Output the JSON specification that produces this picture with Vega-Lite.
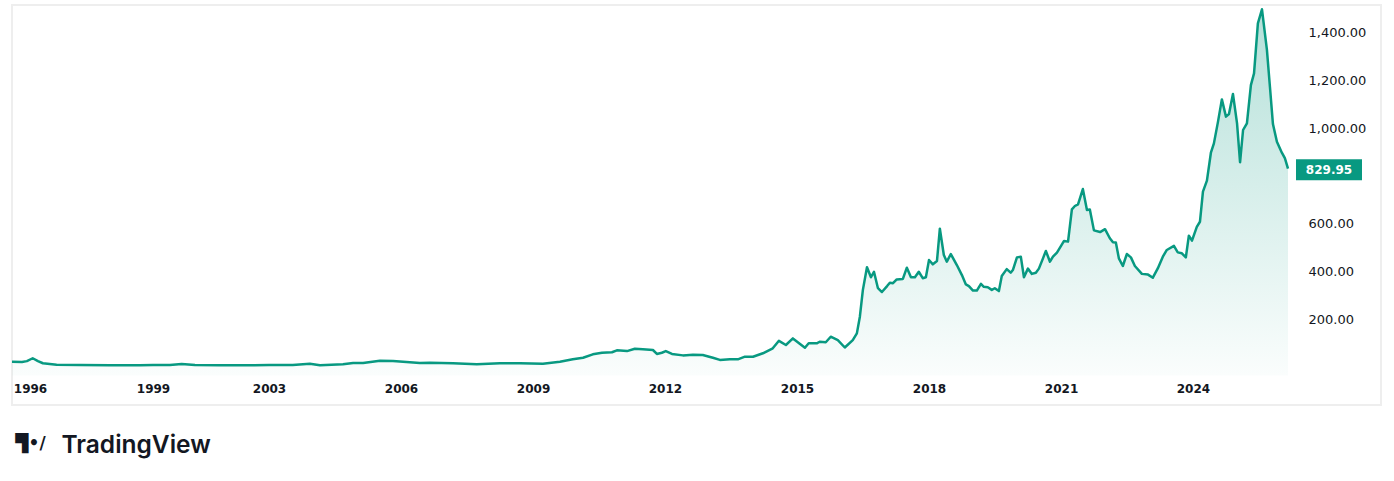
{
  "$schema": "https://vega.github.io/schema/vega-lite/v6.json",
  "width": 1369,
  "height": 400,
  "padding": {"left": 12, "top": 5, "right": 13, "bottom": 76},
  "autosize": {"type": "none"},
  "background": "#ffffff",
  "config": {
    "view": {"stroke": "#eeeeee", "strokeWidth": 2},
    "axis": {"grid": false, "domain": false, "ticks": false, "tickSize": 0}
  },
  "data": {
    "format": {"parse": {"date": "utc:'%Y-%m-%d'"}},
    "values": [
      {"date": "1995-07-22", "close": 22},
      {"date": "1995-10-20", "close": 21},
      {"date": "1995-12-04", "close": 25},
      {"date": "1996-01-25", "close": 37},
      {"date": "1996-03-12", "close": 25},
      {"date": "1996-04-25", "close": 16},
      {"date": "1996-08-25", "close": 10},
      {"date": "1997-03-20", "close": 9},
      {"date": "1997-12-13", "close": 7.5},
      {"date": "1998-09-06", "close": 8},
      {"date": "1999-01-01", "close": 9},
      {"date": "1999-08-01", "close": 9},
      {"date": "1999-12-28", "close": 13},
      {"date": "2000-06-13", "close": 9},
      {"date": "2001-04-22", "close": 7.5},
      {"date": "2002-03-03", "close": 7.5},
      {"date": "2003-01-01", "close": 9},
      {"date": "2003-07-17", "close": 9},
      {"date": "2003-12-06", "close": 14},
      {"date": "2004-02-28", "close": 7.5},
      {"date": "2004-09-06", "close": 12},
      {"date": "2004-11-29", "close": 17},
      {"date": "2005-02-20", "close": 17},
      {"date": "2005-07-10", "close": 27},
      {"date": "2005-10-26", "close": 25.5},
      {"date": "2006-03-15", "close": 20},
      {"date": "2006-06-06", "close": 17},
      {"date": "2006-08-28", "close": 18},
      {"date": "2007-03-08", "close": 16},
      {"date": "2007-09-22", "close": 12},
      {"date": "2008-04-01", "close": 16},
      {"date": "2008-09-14", "close": 16},
      {"date": "2009-03-24", "close": 14},
      {"date": "2009-08-12", "close": 22.6},
      {"date": "2009-11-27", "close": 32.6},
      {"date": "2010-02-20", "close": 39},
      {"date": "2010-05-12", "close": 53.5},
      {"date": "2010-07-27", "close": 60},
      {"date": "2010-10-18", "close": 62},
      {"date": "2010-11-28", "close": 70},
      {"date": "2011-02-20", "close": 67},
      {"date": "2011-04-26", "close": 77},
      {"date": "2011-07-01", "close": 74.5},
      {"date": "2011-09-23", "close": 71.5},
      {"date": "2011-10-26", "close": 55},
      {"date": "2011-12-06", "close": 60},
      {"date": "2012-01-08", "close": 67},
      {"date": "2012-02-28", "close": 55},
      {"date": "2012-05-29", "close": 49},
      {"date": "2012-08-20", "close": 52},
      {"date": "2012-11-10", "close": 50.6},
      {"date": "2013-02-02", "close": 39},
      {"date": "2013-04-01", "close": 30},
      {"date": "2013-06-23", "close": 32.6},
      {"date": "2013-08-28", "close": 32.6},
      {"date": "2013-10-26", "close": 43.5},
      {"date": "2014-01-01", "close": 43.5},
      {"date": "2014-03-24", "close": 57.7},
      {"date": "2014-06-14", "close": 78.7},
      {"date": "2014-08-04", "close": 110},
      {"date": "2014-10-01", "close": 92.5},
      {"date": "2014-11-28", "close": 120},
      {"date": "2015-03-08", "close": 81},
      {"date": "2015-04-08", "close": 99.6},
      {"date": "2015-06-14", "close": 99.6},
      {"date": "2015-07-08", "close": 106},
      {"date": "2015-08-28", "close": 104},
      {"date": "2015-10-08", "close": 127},
      {"date": "2015-12-06", "close": 113},
      {"date": "2016-02-02", "close": 82},
      {"date": "2016-04-08", "close": 113},
      {"date": "2016-05-12", "close": 141},
      {"date": "2016-06-06", "close": 211},
      {"date": "2016-07-01", "close": 323},
      {"date": "2016-08-04", "close": 418},
      {"date": "2016-09-06", "close": 376},
      {"date": "2016-10-01", "close": 399},
      {"date": "2016-11-03", "close": 330},
      {"date": "2016-12-06", "close": 314},
      {"date": "2017-01-18", "close": 339},
      {"date": "2017-02-10", "close": 353},
      {"date": "2017-03-08", "close": 351},
      {"date": "2017-04-08", "close": 367},
      {"date": "2017-05-29", "close": 369},
      {"date": "2017-07-01", "close": 416},
      {"date": "2017-08-04", "close": 376},
      {"date": "2017-09-06", "close": 376},
      {"date": "2017-10-08", "close": 399},
      {"date": "2017-11-10", "close": 372},
      {"date": "2017-12-06", "close": 376},
      {"date": "2018-01-01", "close": 448},
      {"date": "2018-02-02", "close": 430},
      {"date": "2018-03-08", "close": 444},
      {"date": "2018-04-01", "close": 579},
      {"date": "2018-05-04", "close": 469},
      {"date": "2018-05-29", "close": 441},
      {"date": "2018-07-01", "close": 473},
      {"date": "2018-08-20", "close": 427},
      {"date": "2018-10-01", "close": 385},
      {"date": "2018-11-03", "close": 346},
      {"date": "2018-11-28", "close": 339},
      {"date": "2019-01-01", "close": 320},
      {"date": "2019-02-02", "close": 320},
      {"date": "2019-03-08", "close": 348},
      {"date": "2019-04-01", "close": 336},
      {"date": "2019-05-04", "close": 334},
      {"date": "2019-06-06", "close": 323},
      {"date": "2019-07-01", "close": 330},
      {"date": "2019-08-04", "close": 318},
      {"date": "2019-08-28", "close": 381},
      {"date": "2019-10-08", "close": 410},
      {"date": "2019-11-10", "close": 395},
      {"date": "2019-11-28", "close": 406},
      {"date": "2020-01-01", "close": 459},
      {"date": "2020-02-02", "close": 462},
      {"date": "2020-02-28", "close": 376},
      {"date": "2020-04-01", "close": 412},
      {"date": "2020-05-04", "close": 390},
      {"date": "2020-06-06", "close": 395},
      {"date": "2020-07-01", "close": 412},
      {"date": "2020-08-04", "close": 455},
      {"date": "2020-08-28", "close": 486},
      {"date": "2020-10-01", "close": 441},
      {"date": "2020-10-26", "close": 462},
      {"date": "2020-11-28", "close": 479},
      {"date": "2021-01-01", "close": 507},
      {"date": "2021-01-26", "close": 528},
      {"date": "2021-02-28", "close": 525},
      {"date": "2021-04-01", "close": 660},
      {"date": "2021-04-26", "close": 674},
      {"date": "2021-05-22", "close": 681},
      {"date": "2021-07-01", "close": 745},
      {"date": "2021-08-04", "close": 657},
      {"date": "2021-08-28", "close": 659},
      {"date": "2021-10-01", "close": 572},
      {"date": "2021-11-21", "close": 565},
      {"date": "2022-01-01", "close": 577},
      {"date": "2022-02-10", "close": 539},
      {"date": "2022-03-08", "close": 522},
      {"date": "2022-04-01", "close": 521},
      {"date": "2022-04-26", "close": 455},
      {"date": "2022-05-29", "close": 423},
      {"date": "2022-07-01", "close": 473},
      {"date": "2022-08-04", "close": 459},
      {"date": "2022-09-06", "close": 423},
      {"date": "2022-11-03", "close": 390},
      {"date": "2022-12-24", "close": 387},
      {"date": "2023-02-02", "close": 374},
      {"date": "2023-03-15", "close": 413},
      {"date": "2023-04-26", "close": 462},
      {"date": "2023-05-29", "close": 490},
      {"date": "2023-07-27", "close": 507},
      {"date": "2023-08-28", "close": 480},
      {"date": "2023-10-01", "close": 476},
      {"date": "2023-11-03", "close": 459},
      {"date": "2023-11-28", "close": 550},
      {"date": "2023-12-24", "close": 529},
      {"date": "2024-02-02", "close": 587},
      {"date": "2024-02-28", "close": 608},
      {"date": "2024-03-24", "close": 734},
      {"date": "2024-04-26", "close": 780},
      {"date": "2024-05-29", "close": 897},
      {"date": "2024-06-23", "close": 936},
      {"date": "2024-07-27", "close": 1027},
      {"date": "2024-08-28", "close": 1120},
      {"date": "2024-10-01", "close": 1048},
      {"date": "2024-10-26", "close": 1059},
      {"date": "2024-11-28", "close": 1143},
      {"date": "2025-01-01", "close": 1020},
      {"date": "2025-01-26", "close": 857},
      {"date": "2025-02-20", "close": 992},
      {"date": "2025-03-24", "close": 1020},
      {"date": "2025-04-26", "close": 1180},
      {"date": "2025-05-22", "close": 1229},
      {"date": "2025-06-23", "close": 1438},
      {"date": "2025-07-27", "close": 1497},
      {"date": "2025-09-06", "close": 1327},
      {"date": "2025-10-01", "close": 1173},
      {"date": "2025-10-26", "close": 1017},
      {"date": "2025-11-28", "close": 943},
      {"date": "2026-01-08", "close": 897},
      {"date": "2026-02-02", "close": 874},
      {"date": "2026-02-28", "close": 829.95}
    ]
  },
  "encoding": {
    "x": {
      "field": "date",
      "type": "quantitative",
      "scale": {
        "type": "linear",
        "nice": false,
        "zero": false,
        "domain": [806371200000, 820454400000, 915148800000, 1041379200000, 1772236800000],
        "range": [0, 18, 141, 257, 1276]
      },
      "axis": {
        "values": [820454400000, 915148800000, 1041379200000, 1136073600000, 1230768000000, 1325376000000, 1420070400000, 1514764800000, 1609459200000, 1704067200000],
        "labelExpr": "utcFormat(datum.value, '%Y')",
        "labelFont": "DejaVu Sans",
        "labelFontSize": 12,
        "labelFontWeight": "bold",
        "labelColor": "#131722",
        "labelPadding": -16.5,
        "labelBaseline": "middle",
        "labelFlush": false,
        "labelOverlap": false,
        "title": "TradingView",
        "titleFont": "Inter",
        "titleFontSize": 24.5,
        "titleFontWeight": 600,
        "titleColor": "#131722",
        "titleX": 49,
        "titleY": 47,
        "titleAlign": "left",
        "titleBaseline": "alphabetic"
      }
    },
    "y": {
      "field": "close",
      "type": "quantitative",
      "scale": {"domain": [-158.6, 1515], "nice": false, "zero": false},
      "axis": {
        "orient": "right",
        "values": [200, 400, 600, 800, 1000, 1200, 1400],
        "format": ",.2f",
        "labelFont": "DejaVu Sans",
        "labelFontSize": 13,
        "labelColor": "#131722",
        "labelPadding": -73,
        "labelBaseline": "middle",
        "labelAlign": "left",
        "title": "▜•/",
        "titleAngle": 0,
        "titleFont": "DejaVu Sans",
        "titleFontSize": 17,
        "titleFontWeight": "bold",
        "titleColor": "#131722",
        "titleX": -1366,
        "titleY": 443,
        "titleAlign": "left",
        "titleBaseline": "alphabetic"
      }
    }
  },
  "layer": [
    {
      "mark": {
        "type": "area",
        "color": {
          "gradient": "linear",
          "x1": 0, "y1": 0, "x2": 0, "y2": 1,
          "stops": [
            {"offset": 0, "color": "rgba(8,153,129,0.30)"},
            {"offset": 1, "color": "rgba(8,153,129,0.02)"}
          ]
        }
      },
      "encoding": {"y2": {"datum": -35}}
    },
    {
      "mark": {"type": "line", "color": "#089981", "strokeWidth": 2.5, "strokeJoin": "round"},
      "encoding": {}
    },
    {
      "transform": [{"filter": "datum.close === 829.95"}],
      "mark": {
        "type": "point",
        "shape": "M-1,-0.318L1,-0.318L1,0.318L-1,0.318Z",
        "size": 4356,
        "filled": true,
        "color": "#089981",
        "opacity": 1,
        "xOffset": 41,
        "yOffset": 1
      },
      "encoding": {}
    },
    {
      "transform": [{"filter": "datum.close === 829.95"}],
      "mark": {
        "type": "text",
        "color": "#ffffff",
        "font": "DejaVu Sans",
        "fontSize": 12,
        "fontWeight": "bold",
        "align": "center",
        "baseline": "middle",
        "xOffset": 41,
        "yOffset": 1
      },
      "encoding": {"text": {"field": "close", "format": ",.2f"}}
    }
  ]
}
